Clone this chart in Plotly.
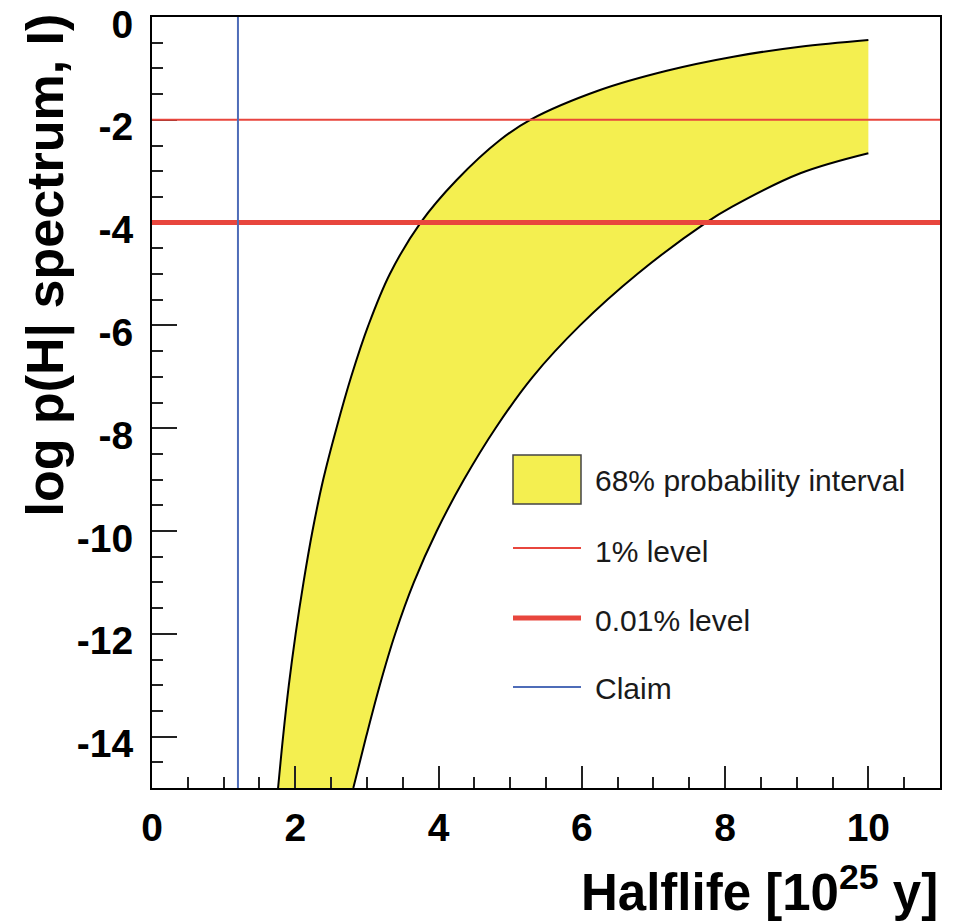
import plotly.graph_objects as go

# ---- data ----
# upper (left) edge of the 68% band: halflife [1e25 y] vs log p
upper_x = [1.76, 1.83, 1.91, 2.005, 2.115, 2.24, 2.39, 2.575, 2.78, 3.02, 3.32, 3.75, 4.253, 4.858, 5.28,
           6.254, 7.185, 8.115, 9.046, 10.0]
upper_y = [-15.0, -14.0, -13.0, -12.0, -11.0, -10.0, -9.0, -8.0, -7.0, -6.0, -5.0, -4.0, -3.171, -2.393, -2.0,
           -1.42, -1.045, -0.772, -0.578, -0.447]
# lower (right) edge of the 68% band
lower_x = [2.81, 2.99, 3.18, 3.395, 3.655, 3.975, 4.355, 4.795, 5.315, 5.975, 6.775, 7.735, 8.10, 9.05, 10.0]
lower_y = [-15.0, -14.0, -13.0, -12.0, -11.0, -10.0, -9.0, -8.0, -7.0, -6.0, -5.0, -4.0, -3.69, -3.04, -2.65]

level_1pct = -2.0      # log p of the 1% level
level_001pct = -4.0    # log p of the 0.01% level
claim_halflife = 1.2   # claimed halflife

x_range = [0, 11]
y_range = [-15, 0]
x_tickvals = [0, 2, 4, 6, 8, 10]
x_ticktext = ["0", "2", "4", "6", "8", "10"]
y_tickvals = [0, -2, -4, -6, -8, -10, -12, -14]
y_ticktext = ["0", "-2", "-4", "-6", "-8", "-10", "-12", "-14"]

legend_labels = ["68% probability interval", "1% level", "0.01% level", "Claim"]

YELLOW = "#f4ef50"
RED = "#e8463d"
BLUE = "#4e6cb8"

fig = go.Figure()

# band: upper edge, then lower edge filled to the upper edge
fig.add_trace(go.Scatter(x=upper_x, y=upper_y, mode="lines",
                         line=dict(color="black", width=2, shape="spline", smoothing=1.0),
                         hoverinfo="skip", showlegend=False))
fig.add_trace(go.Scatter(x=lower_x, y=lower_y, mode="lines", fill="tonexty", fillcolor=YELLOW,
                         line=dict(color="black", width=2, shape="spline", smoothing=1.0),
                         hoverinfo="skip", showlegend=False))
# levels
fig.add_trace(go.Scatter(x=x_range, y=[level_1pct, level_1pct], mode="lines", line=dict(color=RED, width=2),
                         hoverinfo="skip", showlegend=False))
fig.add_trace(go.Scatter(x=x_range, y=[level_001pct, level_001pct], mode="lines", line=dict(color=RED, width=5),
                         hoverinfo="skip", showlegend=False))
# claim
fig.add_trace(go.Scatter(x=[claim_halflife, claim_halflife], y=y_range, mode="lines", line=dict(color=BLUE, width=2),
                         hoverinfo="skip", showlegend=False))

W, H = 959, 922
ML, MR, MT, MB = 152, 19, 17, 134
PW, PH = W - ML - MR, H - MT - MB


def px(xp):
    return (xp - ML) / PW


def py(yp):
    return (H - MB - yp) / PH


tickfont = dict(family="Liberation Sans", size=39, color="black", weight="bold")
axis_common = dict(showline=True, linewidth=2, linecolor="black", mirror=True, showgrid=False, zeroline=False,
                   ticks="inside", tickcolor="#222", tickwidth=1.5, tickfont=tickfont, tickmode="array",
                   ticklabeloverflow="allow", automargin=False)

fig.update_xaxes(range=x_range, tickvals=x_tickvals, ticktext=x_ticktext, ticklen=22, ticklabelstandoff=4,
                 minor=dict(tickmode="linear", tick0=0, dtick=0.5, ticklen=11, ticks="inside", tickcolor="#222", tickwidth=1.5),
                 **axis_common)
fig.update_yaxes(range=y_range, tickvals=y_tickvals, ticktext=y_ticktext, ticklen=25, ticklabelstandoff=9,
                 ticklabelshift=7, layer="below traces",
                 minor=dict(tickmode="linear", tick0=0, dtick=0.5, ticklen=11, ticks="inside", tickcolor="#222", tickwidth=1.5),
                 **axis_common)

annotations = []
# axis titles
annotations.append(dict(text="Halflife [10<sup>25</sup> y]", xref="paper", yref="paper", x=1.0, y=py(889),
                        xanchor="right", yanchor="middle", showarrow=False,
                        font=dict(family="Liberation Sans", size=51, color="black", weight="bold")))
annotations.append(dict(text="log p(H| spectrum, I)", xref="paper", yref="paper", x=px(45), y=py(12),
                        xanchor="center", yanchor="top", textangle=-90, showarrow=False,
                        font=dict(family="Liberation Sans", size=52, color="black", weight="bold")))

# manual legend (ROOT-style, no border)
shapes = []
shapes.append(dict(type="rect", xref="paper", yref="paper", x0=px(513), x1=px(581), y0=py(504), y1=py(455),
                   fillcolor=YELLOW, line=dict(color="#444", width=1.5)))
legend_line_y = [548, 618, 687]
legend_line_w = [2, 5, 2]
legend_line_c = [RED, RED, BLUE]
for yy, ww, cc in zip(legend_line_y, legend_line_w, legend_line_c):
    shapes.append(dict(type="line", xref="paper", yref="paper", x0=px(513), x1=px(581), y0=py(yy), y1=py(yy),
                       line=dict(color=cc, width=ww)))
legend_text_y = [480, 551, 620, 688]
for lab, yy in zip(legend_labels, legend_text_y):
    annotations.append(dict(text=lab, xref="paper", yref="paper", x=px(593), y=py(yy), xanchor="left", yanchor="middle",
                            showarrow=False, font=dict(family="Liberation Sans", size=30, color="#1a1a1a")))

fig.update_layout(width=W, height=H, margin=dict(l=ML, r=MR, t=MT, b=MB, pad=0, autoexpand=False),
                  plot_bgcolor="white", paper_bgcolor="white", showlegend=False,
                  annotations=annotations, shapes=shapes)

fig.write_html("out.html", config={"displayModeBar": False})
